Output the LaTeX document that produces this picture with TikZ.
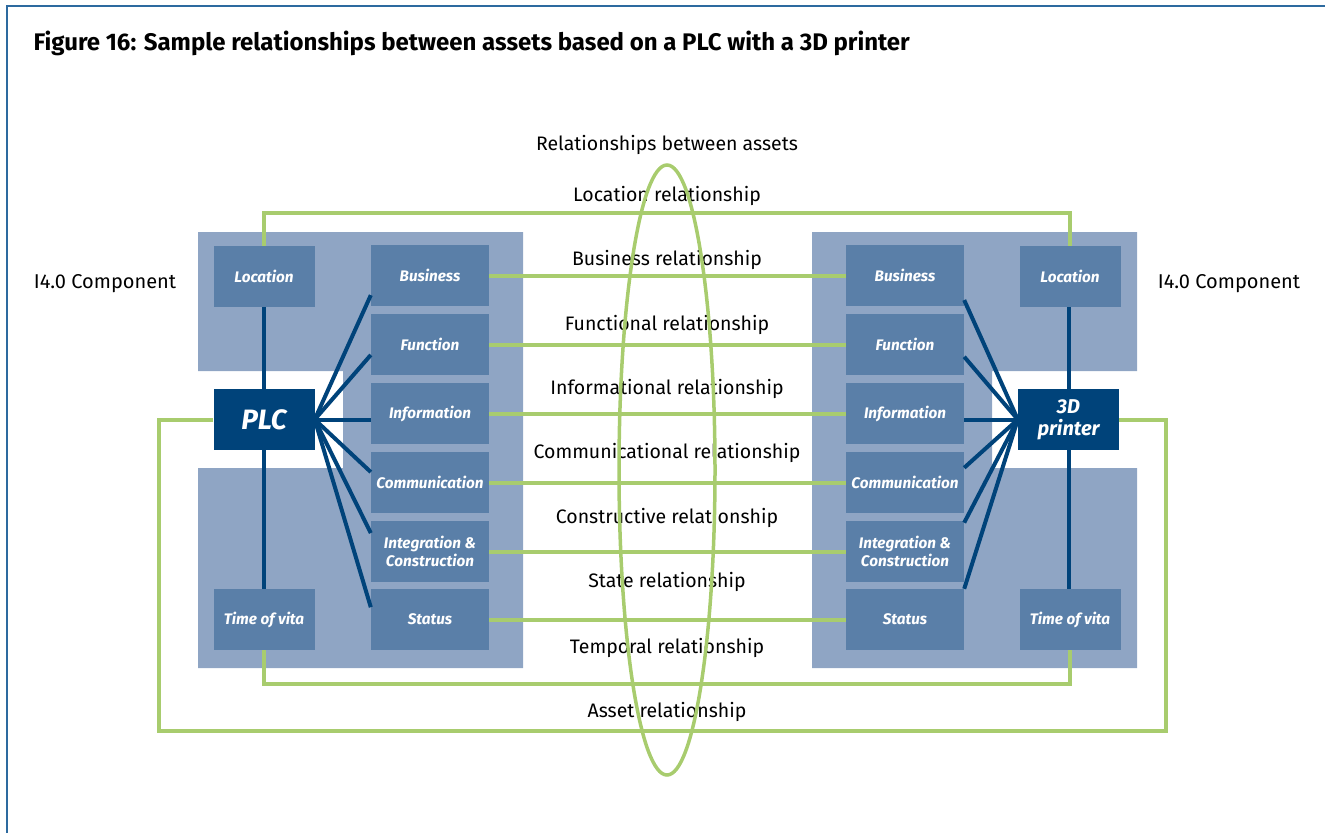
\documentclass[tikz,border=0pt]{standalone}
\usepackage{fontspec}
\setmainfont{Fira Sans}
\usetikzlibrary{calc}

\definecolor{panelblue}{RGB}{143,165,196}
\definecolor{boxblue}{RGB}{90,127,168}
\definecolor{navy}{RGB}{0,67,122}
\definecolor{relgreen}{RGB}{168,204,110}
\definecolor{frameblue}{RGB}{45,106,159}

\begin{document}
\begin{tikzpicture}[x=1pt, y=-1pt,
    cbox/.style={fill=boxblue, text=white, minimum width=118pt, minimum height=61pt,
      inner sep=0pt, align=center, font=\fontsize{15.3}{18.5}\selectfont\bfseries\itshape},
    sbox/.style={cbox, minimum width=101pt},
    asset/.style={fill=navy, text=white, minimum width=101pt, minimum height=61pt,
      inner sep=0pt, align=center},
    rel/.style={relgreen, line width=4pt},
    link/.style={navy, line width=4pt},
    lbl/.style={font=\fontsize{19.5}{23}\selectfont}]
    \useasboundingbox (0,0) rectangle (1325,833);

    % Frame and title
    \draw[frameblue, line width=1.5pt] (1325,6) -- (7,6) -- (7,833);
    \node[anchor=base west, font=\fontsize{24}{28}\selectfont\bfseries] (title) at (30,50)
      {Figure 16: Sample relationships between assets based on a PLC with a 3D printer};

    % Panels of the two I4.0 components
    \fill[panelblue] (198,232) -- (523,232) -- (523,668) -- (198,668) -- (198,468)
      -- (343,468) -- (343,371) -- (198,371) -- cycle;
    \fill[panelblue] (812,232) -- (1137,232) -- (1137,371) -- (992,371) -- (992,468)
      -- (1137,468) -- (1137,668) -- (812,668) -- cycle;

    % Left component
    \node[sbox] (locL) at (264,276.5) {Location};
    \node[sbox] (timeL) at (264,619.5) {Time of vita};
    \node[asset, font=\fontsize{28}{32}\selectfont\bfseries\itshape] (plc) at (264,419.5) {PLC};
    \node[cbox] (bizL) at (430,275.5) {Business};
    \node[cbox] (funL) at (430,344.5) {Function};
    \node[cbox] (infL) at (430,413.5) {Information};
    \node[cbox] (comL) at (430,482.5) {Communication};
    \node[cbox] (intL) at (430,551.5) {Integration \&\\Construction};
    \node[cbox] (staL) at (430,619.5) {Status};

    % Right component
    \node[sbox] (locR) at (1070,276.5) {Location};
    \node[sbox] (timeR) at (1070,619.5) {Time of vita};
    \node[asset, font=\fontsize{20}{22}\selectfont\bfseries\itshape] (prn) at (1068.5,419.5) {3D\\printer};
    \node[cbox] (bizR) at (905,275.5) {Business};
    \node[cbox] (funR) at (905,344.5) {Function};
    \node[cbox] (infR) at (905,413.5) {Information};
    \node[cbox] (comR) at (905,482.5) {Communication};
    \node[cbox] (intR) at (905,551.5) {Integration \&\\Construction};
    \node[cbox] (staR) at (905,619.5) {Status};

    % Links inside the components
    \draw[link] (locL) -- (plc);
    \draw[link] (plc) -- (timeL);
    \draw[link] (plc.east) -- ($(bizL.south west)!0.18!(bizL.north west)$);
    \draw[link] (plc.east) -- ($(funL.south west)!0.33!(funL.north west)$);
    \draw[link] (plc.east) -- (plc.east -| infL.west);
    \draw[link] (plc.east) -- ($(comL.south west)!0.67!(comL.north west)$);
    \draw[link] (plc.east) -- ($(intL.south west)!0.8!(intL.north west)$);
    \draw[link] (plc.east) -- ($(staL.south west)!0.7!(staL.north west)$);

    \draw[link] (locR.south -| prn.north) -- (prn.north);
    \draw[link] (prn.south) -- (prn.south |- timeR.north);
    \draw[link] (prn.west) -- ($(bizR.south east)!0.1!(bizR.north east)$);
    \draw[link] (prn.west) -- ($(funR.south east)!0.3!(funR.north east)$);
    \draw[link] (prn.west) -- (prn.west -| infR.east);
    \draw[link] (prn.west) -- ($(comR.south east)!0.74!(comR.north east)$);
    \draw[link] (prn.west) -- ($(intR.south east)!0.97!(intR.north east)$);
    \draw[link] (prn.west) -- (staR.north east);

    % Relationships between the assets
    \draw[rel] (bizL) -- (bizR);
    \draw[rel] (funL) -- (funR);
    \draw[rel] (infL) -- (infR);
    \draw[rel] (comL) -- (comR);
    \draw[rel] (intL) -- (intR);
    \draw[rel] (staL) -- (staR);
    \coordinate (locbar) at (667,212.5);
    \coordinate (timebar) at (667,684);
    \coordinate (assetL) at (159,731);
    \coordinate (assetR) at (1166,731);
    \draw[rel] (locL.north) |- (locbar) -| (locR.north);
    \draw[rel] (timeL.south) |- (timebar) -| (timeR.south);
    \draw[rel] (plc.west) -| (assetL) -- (assetR) |- (prn.east);

    % Labels
    \node[lbl, font=\fontsize{20}{24}\selectfont] (compL) at (105,284) {I4.0 Component};
    \node[lbl, font=\fontsize{20}{24}\selectfont] (compR) at (1229,284) {I4.0 Component};
    \node[lbl] (between) at (667,145) {Relationships between assets};
    \node[lbl] (rLoc) at (667,196) {Location relationship};
    \node[lbl] (rBiz) at (667,260) {Business relationship};
    \node[lbl] (rFun) at (667,325) {Functional relationship};
    \node[lbl] (rInf) at (667,389) {Informational relationship};
    \node[lbl] (rCom) at (667,453) {Communicational relationship};
    \node[lbl] (rCon) at (667,518) {Constructive relationship};
    \node[lbl] (rSta) at (667,582) {State relationship};
    \node[lbl] (rTem) at (667,648) {Temporal relationship};
    \node[lbl] (rAss) at (667,712) {Asset relationship};

    % Ellipse round the relationships
    \draw[relgreen, line width=3.5pt] (667,470) ellipse [x radius=48pt, y radius=305pt];
\end{tikzpicture}
\end{document}
